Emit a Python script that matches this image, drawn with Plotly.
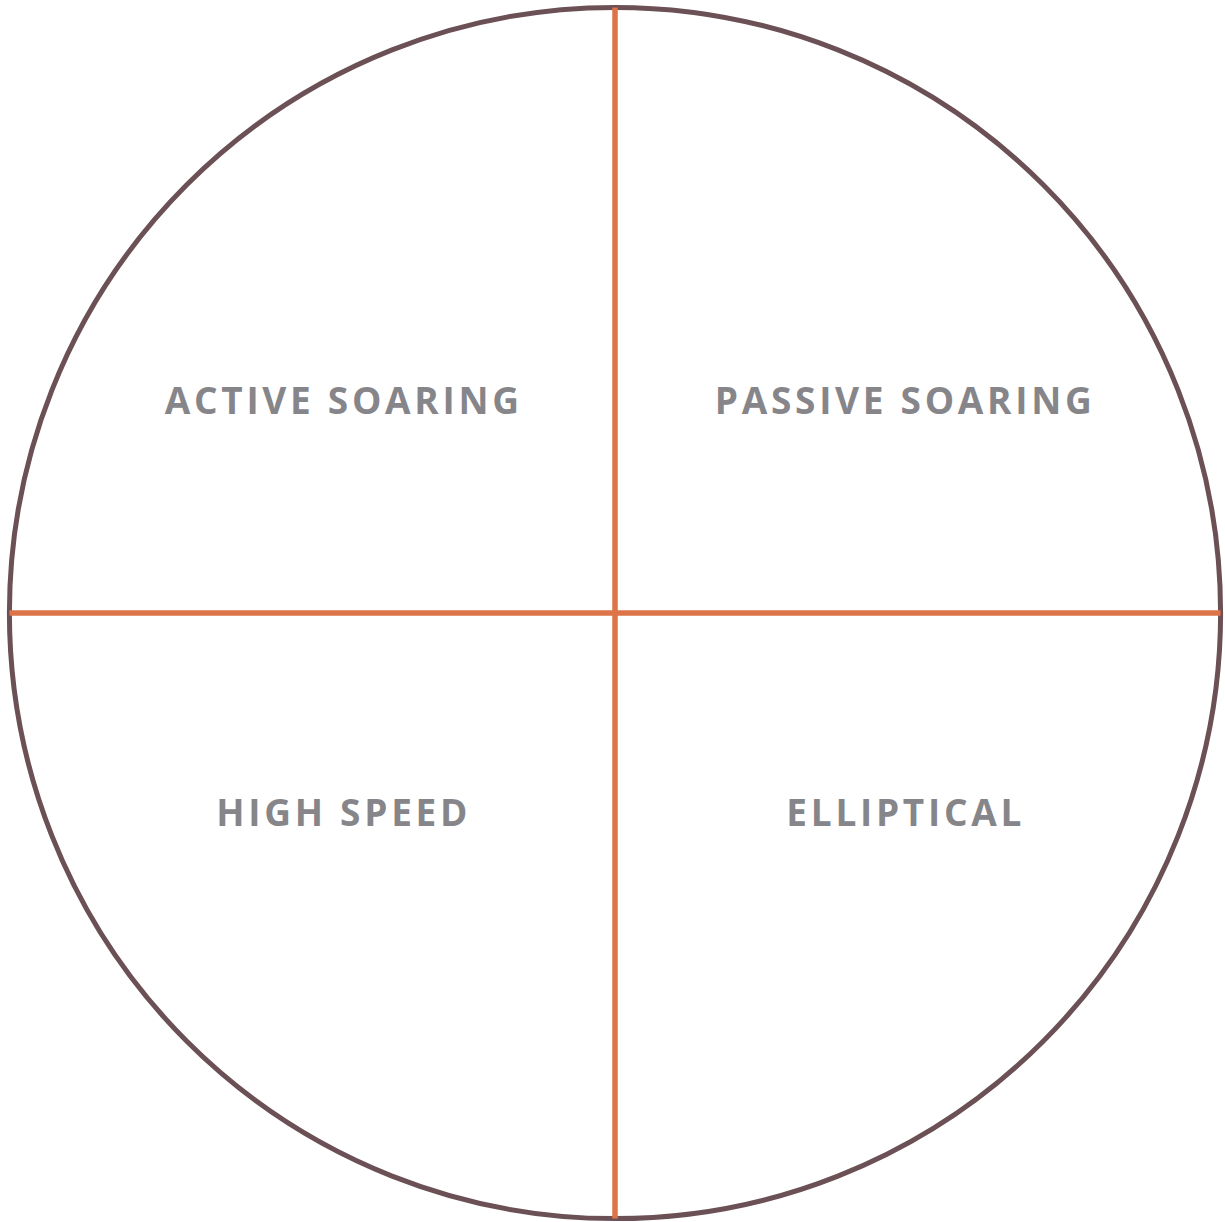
import plotly.graph_objects as go

# Quadrant labels and their positions (unit circle coordinates)
labels = ["ACTIVE SOARING", "PASSIVE SOARING", "HIGH SPEED", "ELLIPTICAL"]
label_x = [-0.451, 0.476, -0.451, 0.477]
label_y = [0.344, 0.344, -0.337, -0.337]

circle_color = "#6b5056"
cross_color = "#dc7447"
text_color = "#86868a"

def spaced(s):
    return "\u200a".join(list(s))

fig = go.Figure()
fig.add_trace(go.Scatter(
    x=label_x, y=label_y, mode="text",
    text=[spaced(t) for t in labels],
    textposition="middle center",
    textfont=dict(family="Open Sans", size=37, color=text_color, weight=700),
    hoverinfo="skip", showlegend=False,
))

fig.add_shape(type="circle", x0=-1, x1=1, y0=-1, y1=1,
              line=dict(color=circle_color, width=5), layer="below")
fig.add_shape(type="line", x0=0, x1=0, y0=-1.0, y1=1.0,
              line=dict(color=cross_color, width=5.5), layer="below")
fig.add_shape(type="line", x0=-1, x1=1, y0=0, y1=0,
              line=dict(color=cross_color, width=5.5), layer="below")

W, H = 1225, 1222
cx, cy = 615, 613
scale = 605.6
fig.update_layout(
    width=W, height=H,
    margin=dict(l=0, r=0, t=0, b=0),
    paper_bgcolor="white", plot_bgcolor="white",
    xaxis=dict(range=[-cx / scale, (W - cx) / scale], visible=False, fixedrange=True),
    yaxis=dict(range=[-(H - cy) / scale, cy / scale], visible=False, fixedrange=True),
    showlegend=False,
)
fig.write_html(
    "out.html",
    config={"displayModeBar": False},
    post_script="document.body.style.margin='0';document.body.style.overflow='hidden';",
)
